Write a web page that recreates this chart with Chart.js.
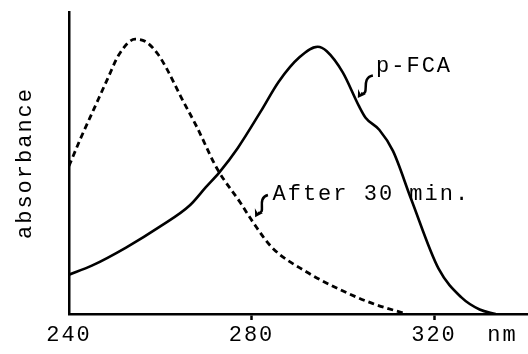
<!DOCTYPE html>
<html>
<head>
<meta charset="utf-8">
<script src="https://cdn.jsdelivr.net/npm/chart.js"></script>
<style>
    body { margin: 0; background: #fff; }
    #wrap { width: 528px; height: 354px; }
</style>
</head>
<body>
<div id="wrap"><canvas id="spectrum"></canvas></div>
<script>
// tick labels on the wavelength axis, plus the unit written as the last label
const wavelengthTicks = [240, 280, 320];
const unitLabel = 'nm';
const unitPosition = 335;

// p-FCA (solid)
const fcaWavelengths = [240, 245, 252.5, 260, 266.5, 270, 273, 277, 282, 286, 290.5, 294.5, 296.5, 300, 303.5, 305, 308, 311, 315, 321, 326, 330, 333.5];
const fcaAbsorbance = [0.13, 0.16, 0.22, 0.29, 0.36, 0.42, 0.47, 0.55, 0.67, 0.77, 0.85, 0.885, 0.87, 0.80, 0.69, 0.65, 0.61, 0.54, 0.38, 0.15, 0.055, 0.015, 0];

// after 30 min (dashed)
const afterWavelengths = [240, 242.5, 245.5, 248.5, 251, 254.5, 257, 259.5, 261.5, 264.5, 268, 272.5, 277.5, 280.5, 284.5, 292, 299.5, 306.5, 314];
const afterAbsorbance = [0.49, 0.58, 0.68, 0.78, 0.86, 0.91, 0.90, 0.86, 0.81, 0.72, 0.62, 0.48, 0.37, 0.30, 0.22, 0.14, 0.08, 0.035, 0];

const seriesNames = ['p-FCA', 'After 30 min.'];

const FONT = 'Liberation Mono, DejaVu Sans Mono, monospace';

function toPoints(xs, ys) {
    return xs.map((x, i) => ({ x: x, y: ys[i] }));
}

// callout labels, placed in data coordinates
const callouts = [
    { text: seriesNames[0], textAt: [307.3, 0.80], tail: [306.6, 0.79], tip: [303.3, 0.715] },
    { text: seriesNames[1], textAt: [284.6, 0.377], tail: [283.6, 0.394], tip: [280.8, 0.32] }
];

function drawSquiggleArrow(ctx, tx, ty, hx, hy) {
    const dx = hx - tx, dy = hy - ty;
    const len = Math.hypot(dx, dy);
    const nx = -dy / len, ny = dx / len;
    const w = len * 0.35;
    ctx.beginPath();
    ctx.moveTo(tx, ty);
    ctx.bezierCurveTo(
        tx + dx * 0.35 + nx * w, ty + dy * 0.35 + ny * w,
        tx + dx * 0.65 - nx * w, ty + dy * 0.65 - ny * w,
        hx - dx * 0.2, hy - dy * 0.2
    );
    ctx.stroke();

    const ang = Math.atan2(dy, dx);
    const head = 9;
    ctx.beginPath();
    ctx.moveTo(hx, hy);
    ctx.lineTo(hx - head * Math.cos(ang - 0.55), hy - head * Math.sin(ang - 0.55));
    ctx.lineTo(hx - head * 0.55 * Math.cos(ang), hy - head * 0.55 * Math.sin(ang));
    ctx.lineTo(hx - head * Math.cos(ang + 0.55), hy - head * Math.sin(ang + 0.55));
    ctx.closePath();
    ctx.fill();
}

const calloutPlugin = {
    id: 'callouts',
    beforeDraw(chart) {
        chart.ctx.letterSpacing = '2px';
    },
    afterDatasetsDraw(chart) {
        const ctx = chart.ctx;
        const xs = chart.scales.x, ys = chart.scales.y;
        ctx.save();
        ctx.letterSpacing = '2px';
        ctx.fillStyle = '#000';
        ctx.strokeStyle = '#000';
        ctx.lineWidth = 2.5;
        ctx.font = `22px ${FONT}`;
        ctx.textBaseline = 'alphabetic';
        ctx.textAlign = 'left';
        callouts.forEach(c => {
            ctx.fillText(c.text, xs.getPixelForValue(c.textAt[0]), ys.getPixelForValue(c.textAt[1]));
            drawSquiggleArrow(
                ctx,
                xs.getPixelForValue(c.tail[0]), ys.getPixelForValue(c.tail[1]),
                xs.getPixelForValue(c.tip[0]), ys.getPixelForValue(c.tip[1])
            );
        });
        ctx.restore();
    }
};

new Chart(document.getElementById('spectrum'), {
    type: 'line',
    data: {
        datasets: [
            {
                label: seriesNames[0],
                data: toPoints(fcaWavelengths, fcaAbsorbance),
                borderColor: '#000',
                borderWidth: 2.6,
                pointRadius: 0,
                cubicInterpolationMode: 'monotone'
            },
            {
                label: seriesNames[1],
                data: toPoints(afterWavelengths, afterAbsorbance),
                borderColor: '#000',
                borderWidth: 2.8,
                borderDash: [6, 4],
                pointRadius: 0,
                cubicInterpolationMode: 'monotone'
            }
        ]
    },
    options: {
        responsive: true,
        maintainAspectRatio: false,
        animation: false,
        layout: { padding: { top: 12, right: 0, left: 0, bottom: 0 } },
        plugins: {
            legend: { display: false },
            tooltip: { enabled: false }
        },
        scales: {
            x: {
                type: 'linear',
                min: 240,
                max: 340.6,
                afterBuildTicks: scale => {
                    scale.ticks = wavelengthTicks.concat([unitPosition]).map(v => ({ value: v }));
                },
                afterFit: scale => { scale.height = 40; },
                ticks: {
                    color: '#000',
                    font: { family: FONT, size: 22 },
                    padding: 2,
                    maxRotation: 0,
                    autoSkip: false,
                    callback: v => v === unitPosition ? unitLabel : String(v)
                },
                grid: {
                    display: true,
                    drawOnChartArea: false,
                    drawTicks: true,
                    tickLength: 6,
                    tickWidth: 2.5,
                    tickColor: ctx => (ctx.tick && (ctx.tick.value === 280 || ctx.tick.value === 320)) ? '#000' : 'rgba(0,0,0,0)'
                },
                border: { display: true, color: '#000', width: 2.5 }
            },
            y: {
                type: 'linear',
                min: 0,
                max: 1,
                afterFit: scale => { scale.width = 69; },
                ticks: { display: false },
                grid: { display: false, drawTicks: false },
                border: { display: true, color: '#000', width: 2.5 },
                title: {
                    display: true,
                    text: 'absorbance',
                    color: '#000',
                    font: { family: FONT, size: 22, lineHeight: 1.2 },
                    padding: { top: 12, bottom: 0 }
                }
            }
        }
    },
    plugins: [calloutPlugin]
});
</script>
</body>
</html>
